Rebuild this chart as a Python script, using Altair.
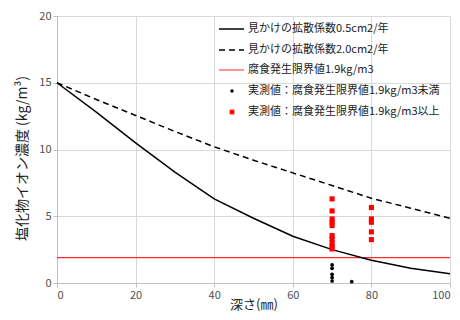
import altair as alt
import pandas as pd

# ---- data ----
depth = [0, 10, 20, 30, 40, 50, 60, 70, 80, 90, 100]
conc_d05 = [15.0, 12.8, 10.5, 8.3, 6.3, 4.85, 3.5, 2.5, 1.7, 1.1, 0.7]
conc_d20 = [15.0, 13.75, 12.55, 11.35, 10.2, 9.2, 8.25, 7.3, 6.35, 5.6, 4.85]
threshold = [1.9]

below_x = [70, 70, 70, 70, 70, 75]
below_y = [1.35, 1.1, 0.65, 0.4, 0.15, 0.1]

above_x = [70, 70, 70, 70, 70, 70, 70, 70, 70, 70, 80, 80, 80, 80, 80]
above_y = [6.3, 5.4, 4.8, 4.55, 4.3, 3.55, 3.3, 3.0, 2.75, 2.55,
           5.65, 4.8, 4.55, 3.83, 3.25]

legend_labels = [
    "見かけの拡散係数0.5cm2/年",
    "見かけの拡散係数2.0cm2/年",
    "腐食発生限界値1.9kg/m3",
    "実測値：腐食発生限界値1.9kg/m3未満",
    "実測値：腐食発生限界値1.9kg/m3以上",
]

x_ticks = [0, 20, 40, 60, 80, 100]
y_ticks = [0, 5, 10, 15, 20]

FONT = "Noto Sans CJK JP"
W, H = 393, 267

xs = alt.Scale(domain=[0, 100], nice=False, zero=False)
ys = alt.Scale(domain=[0, 20], nice=False)

x_axis = alt.Axis(values=x_ticks, title="深さ(㎜)", titleX=W / 2, titleY=21,
                  titleBaseline="middle", titleAnchor="middle")
y_axis = alt.Axis(values=y_ticks, title="塩化物イオン濃度 (kg/m³)", titleX=-35,
                  titleY=142, titleBaseline="middle", titleAngle=270, titleFontSize=14)

d05 = pd.DataFrame({"depth": depth, "conc": conc_d05})
d20 = pd.DataFrame({"depth": depth, "conc": conc_d20})
thr = pd.DataFrame({"t": threshold})
below = pd.DataFrame({"depth": below_x, "conc": below_y})
above = pd.DataFrame({"depth": above_x, "conc": above_y})

line05 = alt.Chart(d05).mark_line(color="black", strokeWidth=1.5).encode(
    x=alt.X("depth:Q", scale=xs, axis=x_axis),
    y=alt.Y("conc:Q", scale=ys, axis=y_axis),
)
line20 = alt.Chart(d20).mark_line(color="black", strokeWidth=1.5, strokeDash=[6, 4]).encode(
    x=alt.X("depth:Q", scale=xs),
    y=alt.Y("conc:Q", scale=ys),
)
thr_rule = alt.Chart(thr).mark_rule(color="#ff2a2a", strokeWidth=1.2).encode(
    y=alt.Y("t:Q", scale=ys),
)
pts_below = alt.Chart(below).mark_circle(color="black", size=14, opacity=1).encode(
    x=alt.X("depth:Q", scale=xs),
    y=alt.Y("conc:Q", scale=ys),
)
pts_above = alt.Chart(above).mark_square(color="#ff0000", size=26, opacity=1).encode(
    x=alt.X("depth:Q", scale=xs),
    y=alt.Y("conc:Q", scale=ys),
)

# ---- manual legend (layout positions only) ----
row_y = [13, 34, 54, 75, 96]
one = pd.DataFrame({"k": [0]})
legend_layers = []
sym_x0, sym_x1, sym_c, txt_x = 162, 187, 175, 191
legend_layers.append(alt.Chart(one).mark_rule(color="black", strokeWidth=1.5).encode(
    x=alt.value(sym_x0), x2=alt.value(sym_x1), y=alt.value(row_y[0])))
legend_layers.append(alt.Chart(one).mark_rule(color="black", strokeWidth=1.5, strokeDash=[6, 4]).encode(
    x=alt.value(sym_x0), x2=alt.value(sym_x1), y=alt.value(row_y[1])))
legend_layers.append(alt.Chart(one).mark_rule(color="#ff7070", strokeWidth=1.5).encode(
    x=alt.value(sym_x0), x2=alt.value(sym_x1), y=alt.value(row_y[2])))
legend_layers.append(alt.Chart(one).mark_circle(color="black", size=12, opacity=1).encode(
    x=alt.value(sym_c), y=alt.value(row_y[3])))
legend_layers.append(alt.Chart(one).mark_square(color="#ff0000", size=22, opacity=1).encode(
    x=alt.value(sym_c), y=alt.value(row_y[4])))
for lab, ry in zip(legend_labels, row_y):
    legend_layers.append(alt.Chart(one).mark_text(
        align="left", baseline="middle", font=FONT, fontSize=11, color="#222222"
    ).encode(x=alt.value(txt_x), y=alt.value(ry), text=alt.value(lab)))

chart = alt.layer(
    thr_rule, line20, line05, pts_above, pts_below, *legend_layers
).properties(
    width=W, height=H, autosize="none",
    padding={"left": 49, "top": 8, "right": 2, "bottom": 32},
).configure_view(stroke=None).configure_axis(
    grid=True, gridColor="#d9d9d9", gridWidth=1,
    domainColor="#bfbfbf", tickColor="#bfbfbf", tickSize=4,
    labelFont=FONT, labelFontSize=11, labelColor="#505050",
    titleFont=FONT, titleFontSize=13, titleColor="#222222", titleFontWeight="normal",
)

chart.save("out.html", embed_options={"renderer": "svg", "actions": False})
